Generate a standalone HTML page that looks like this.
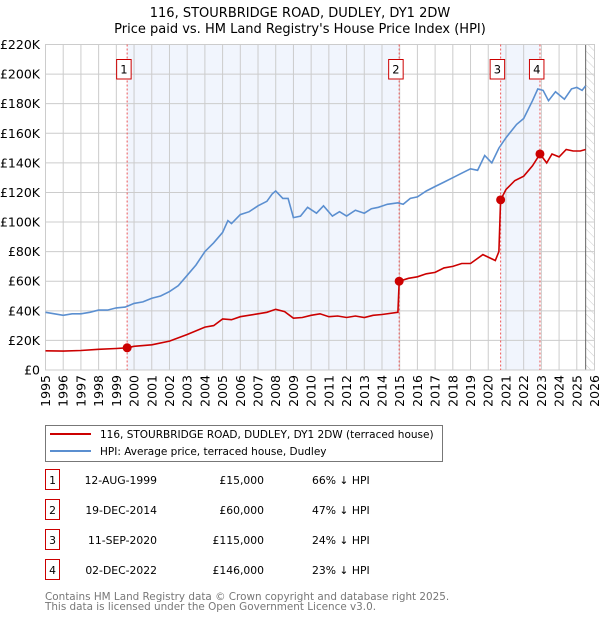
<!DOCTYPE html>
<html><head><meta charset="utf-8"><style>
body{margin:0;background:#fff;font-family:"Liberation Sans","DejaVu Sans",sans-serif}
svg text{font-family:"DejaVu Sans","Liberation Sans",sans-serif}
</style></head><body>
<svg id="c" width="600" height="620" xmlns="http://www.w3.org/2000/svg">
<defs><pattern id="hatch" width="6" height="6" patternUnits="userSpaceOnUse" patternTransform="rotate(-45)"><line x1="0" y1="0" x2="0" y2="6" stroke="#ccc" stroke-width="1"/></pattern></defs>
<text x="300" y="17" font-size="13" text-anchor="middle">116, STOURBRIDGE ROAD, DUDLEY, DY1 2DW</text>
<text x="300" y="33" font-size="13" text-anchor="middle">Price paid vs. HM Land Registry's House Price Index (HPI)</text>
<g id="plot"></g>
<g>
<rect x="45.5" y="425.5" width="397" height="36" fill="#fff" stroke="#777"/>
<line x1="50" y1="434" x2="91" y2="434" stroke="#cc0000" stroke-width="2"/>
<text x="100" y="438" font-size="10.5">116, STOURBRIDGE ROAD, DUDLEY, DY1 2DW (terraced house)</text>
<line x1="50" y1="451" x2="91" y2="451" stroke="#5b8fd0" stroke-width="2"/>
<text x="100" y="455" font-size="10.5">HPI: Average price, terraced house, Dudley</text>
</g>
<g id="table" font-size="10.8"></g>
<text x="45" y="600" font-size="10.4" fill="#777">Contains HM Land Registry data © Crown copyright and database right 2025.</text>
<text x="45" y="610" font-size="10.4" fill="#777">This data is licensed under the Open Government Licence v3.0.</text>
</svg>
<script>
const hpiYears=[1995,1995.5,1996,1996.5,1997,1997.5,1998,1998.5,1999,1999.5,2000,2000.5,2001,2001.5,2002,2002.5,2003,2003.5,2004,2004.5,2005,2005.3,2005.5,2006,2006.5,2007,2007.5,2007.8,2008,2008.4,2008.7,2009,2009.4,2009.8,2010.3,2010.7,2011.2,2011.6,2012,2012.5,2013,2013.4,2013.8,2014.3,2014.9,2015.2,2015.6,2016,2016.5,2017,2017.5,2018,2018.5,2019,2019.4,2019.8,2020.2,2020.6,2021,2021.6,2022,2022.5,2022.8,2023.1,2023.4,2023.8,2024.3,2024.7,2025,2025.3,2025.5];
const hpiValues=[39,38,37,38,38,39,40.5,40.5,42,42.5,45,46,48.5,50,53,57,64,71,80,86,93,101,99,105,107,111,114,119,121,116,116,103,104,110,106,111,104,107,104,108,106,109,110,112,113,112,116,117,121,124,127,130,133,136,135,145,140,150,157,166,170,182,190,189,182,188,183,190,191,189,192];
const ppYears=[1995,1996,1997,1998,1999,1999.61,2000,2001,2002,2003,2004,2004.5,2005,2005.5,2006,2007,2007.5,2008,2008.5,2009,2009.5,2010,2010.5,2011,2011.5,2012,2012.5,2013,2013.5,2014,2014.9,2014.97,2015.5,2016,2016.5,2017,2017.5,2018,2018.5,2019,2019.7,2020.4,2020.6,2020.7,2021,2021.5,2022,2022.5,2022.92,2023.3,2023.6,2024,2024.4,2024.8,2025.2,2025.5];
const ppValues=[13,12.8,13.2,14,14.5,15,16,17,19.5,24,29,30,34.5,34,36,38,39,41,39.5,35,35.5,37,38,36,36.5,35.5,36.5,35.5,37,37.5,39,60,62,63,65,66,69,70,72,72,78,74,80,115,122,128,131,138,146,140,146,144,149,148,148,149];
const saleYears=[1999.61,2014.97,2020.7,2022.92];
const saleValues=[15,60,115,146];
const saleDates=["12-AUG-1999","19-DEC-2014","11-SEP-2020","02-DEC-2022"];
const salePrices=["£15,000","£60,000","£115,000","£146,000"];
const saleDiffs=["66% ↓ HPI","47% ↓ HPI","24% ↓ HPI","23% ↓ HPI"];
const yTicks=[0,20,40,60,80,100,120,140,160,180,200,220];
const xTicks=[1995,1996,1997,1998,1999,2000,2001,2002,2003,2004,2005,2006,2007,2008,2009,2010,2011,2012,2013,2014,2015,2016,2017,2018,2019,2020,2021,2022,2023,2024,2025,2026];

const NS="http://www.w3.org/2000/svg";
const X0=45.5,X1=594.5,Y0=370,Y1=44.5;
const xs=y=>X0+(y-1995)/(2026-1995)*(X1-X0);
const ys=v=>Y0-v/220*(Y0-Y1);
const g=document.getElementById('plot');
function mk(t,a,p){const e=document.createElementNS(NS,t);for(const k in a)e.setAttribute(k,a[k]);(p||g).appendChild(e);return e;}
for(const [a,b] of [[0,1],[2,3]]){
  const r=mk('rect',{x:xs(saleYears[a]),y:Y1,width:xs(saleYears[b])-xs(saleYears[a]),height:Y0-Y1,fill:'#eef3fc',opacity:0.8});
  
  
}
const hx=xs(2025.5);
const hr=mk('rect',{x:hx,y:Y1,width:X1-hx,height:Y0-Y1,fill:'url(#hatch)'});


for(const t of yTicks){
  const l=mk('line',{x1:X0,x2:X1,y1:ys(t),y2:ys(t),stroke:'#cccccc'});
  
  
  const tx=mk('text',{x:40,y:ys(t)+4.5,'font-size':12.5,'text-anchor':'end'});
  tx.textContent=t===0?'£0':'£'+t+'K';
  
  
}
for(const t of xTicks){
  const l=mk('line',{x1:xs(t),x2:xs(t),y1:Y1,y2:Y0,stroke:'#cccccc'});
  
  
  const tx=mk('text',{x:0,y:0,'font-size':12.5,'text-anchor':'end',transform:`translate(${xs(t)+4.5},375) rotate(-90)`});
  tx.textContent=t;
  
  
}
const vl=mk('line',{x1:hx,x2:hx,y1:Y1,y2:Y0,stroke:'#666'});


const br=mk('rect',{x:X0,y:Y1,width:X1-X0,height:Y0-Y1,fill:'none',stroke:'#cccccc'});


saleYears.forEach((s,i)=>{
  const x=xs(s);
  const l=mk('line',{x1:x,x2:x,y1:Y1,y2:Y0,stroke:'#ee5555','stroke-dasharray':'2,2'});
  
  
  const b=mk('rect',{x:x-10.5,y:59.5,width:14.5,height:19.5,fill:'#fff',stroke:'#cc0000'});
  
  
  const t=mk('text',{x:x-3.2,y:73.5,'font-size':11.5,'text-anchor':'middle'});
  t.textContent=i+1;
  
  
});
const path=(xa,va)=>xa.map((y,i)=>(i?'L':'M')+xs(y).toFixed(1)+','+ys(va[i]).toFixed(1)).join('');
const hl=mk('path',{d:path(hpiYears,hpiValues),fill:'none',stroke:'#5b8fd0','stroke-width':1.6});


const pl=mk('path',{d:path(ppYears,ppValues),fill:'none',stroke:'#cc0000','stroke-width':1.6});


saleYears.forEach((s,i)=>{
  const c=mk('circle',{cx:xs(s),cy:ys(saleValues[i]),r:4.5,fill:'#cc0000'});
  
  
});
const tb=document.getElementById('table');
saleDates.forEach((d,i)=>{
  const y=483+i*30;
  const b=mk('rect',{x:45.5,y:y-13.5,width:14,height:20,fill:'#fff',stroke:'#cc0000'},tb);
  
  
  const n=mk('text',{x:52.5,y:y+1,'text-anchor':'middle'},tb);n.textContent=i+1;
  
  
  const t1=mk('text',{x:157,y:y+1,'text-anchor':'end'},tb);t1.textContent=d;
  
  
  const t2=mk('text',{x:264,y:y+1,'text-anchor':'end'},tb);t2.textContent=salePrices[i];
  
  
  const t3=mk('text',{x:312,y:y+1},tb);t3.textContent=saleDiffs[i];
  
  
});
</script>
</body></html>
